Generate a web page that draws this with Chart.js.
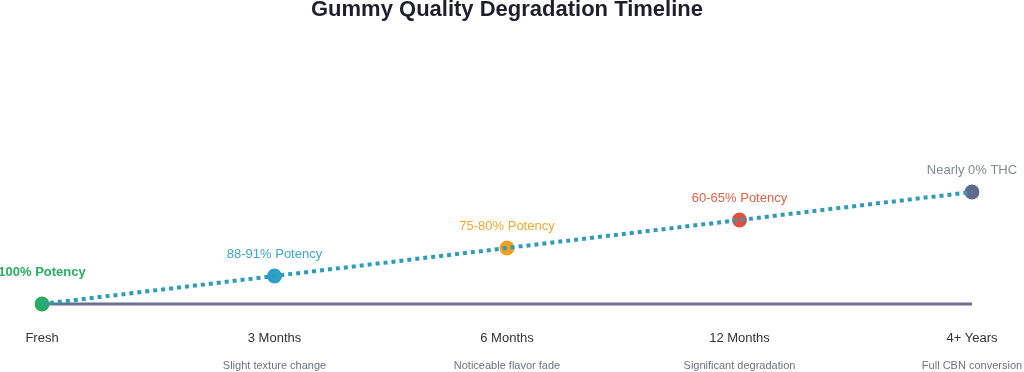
<!DOCTYPE html>
<html>
<head>
<meta charset="utf-8">
<script src="https://cdn.jsdelivr.net/npm/chart.js@4/dist/chart.umd.min.js"></script>
<style>
  html, body { margin: 0; padding: 0; background: #ffffff; }
  canvas { display: block; }
</style>
</head>
<body>
<canvas id="c" width="1024" height="372"></canvas>
<script>
const categories = ['Fresh', '3 Months', '6 Months', '12 Months', '4+ Years'];
const stageNotes = ['', 'Slight texture change', 'Noticeable flavor fade', 'Significant degradation', 'Full CBN conversion'];
const potencyLabels = ['100% Potency', '88-91% Potency', '75-80% Potency', '60-65% Potency', 'Nearly 0% THC'];
const progress = [0, 25, 50, 75, 100];
const baseline = [0, 0, 0, 0, 0];
const pointColors = ['#27ae60', '#2e9fc9', '#f0a020', '#e0503c', '#5f6a8e'];
const labelColors = ['#27ae60', '#3aa6cc', '#f0a830', '#e06048', '#7f8a8d'];

const FONT = '"Liberation Sans", Arial, Helvetica, sans-serif';

const labelPlugin = {
  id: 'labels',
  afterDraw(chart) {
    const ctx = chart.ctx;
    const xs = chart.scales.x;
    const meta = chart.getDatasetMeta(2);
    ctx.save();
    // title
    ctx.textAlign = 'center';
    ctx.textBaseline = 'middle';
    ctx.fillStyle = '#1c1f2e';
    ctx.font = 'bold 22px ' + FONT;
    ctx.fillText('Gummy Quality Degradation Timeline', (chart.chartArea.left + chart.chartArea.right) / 2, 10);
    categories.forEach((c, i) => {
      const x = xs.getPixelForValue(i);
      ctx.font = '13px ' + FONT;
      ctx.fillStyle = '#333333';
      ctx.fillText(c, x, 338);
      if (stageNotes[i]) {
        ctx.font = '11px ' + FONT;
        ctx.fillStyle = '#6b7280';
        ctx.fillText(stageNotes[i], x, 366);
      }
      const pt = meta.data[i];
      ctx.fillStyle = labelColors[i];
      if (i === 0) {
        ctx.font = 'bold 13px ' + FONT;
        ctx.fillText(potencyLabels[i], pt.x, pt.y - 32);
      } else {
        ctx.font = '13px ' + FONT;
        ctx.fillText(potencyLabels[i], pt.x, pt.y - 22);
      }
    });
    ctx.restore();
  }
};

new Chart(document.getElementById('c'), {
  type: 'line',
  data: {
    labels: categories,
    datasets: [
      {
        label: 'trend',
        data: progress,
        borderColor: '#2e9cb5',
        borderWidth: 4,
        borderDash: [4, 4],
        pointRadius: 0,
        fill: false,
        tension: 0,
        order: 0
      },
      {
        label: 'baseline',
        data: baseline,
        borderColor: '#6b6f8e',
        borderWidth: 3,
        pointRadius: 0,
        fill: false,
        order: 2
      },
      {
        label: 'stages',
        data: progress,
        showLine: false,
        pointRadius: 7.5,
        pointBorderWidth: 0,
        pointBackgroundColor: pointColors,
        pointBorderColor: pointColors,
        order: 1
      }
    ]
  },
  options: {
    responsive: false,
    animation: false,
    events: [],
    layout: { padding: { left: 42, right: 52, top: 52, bottom: 40 } },
    plugins: {
      legend: { display: false },
      title: { display: false },
      tooltip: { enabled: false }
    },
    scales: {
      x: { type: 'category', display: false, offset: false },
      y: { display: false, min: -25, max: 225 }
    }
  },
  plugins: [labelPlugin]
});
</script>
</body>
</html>
